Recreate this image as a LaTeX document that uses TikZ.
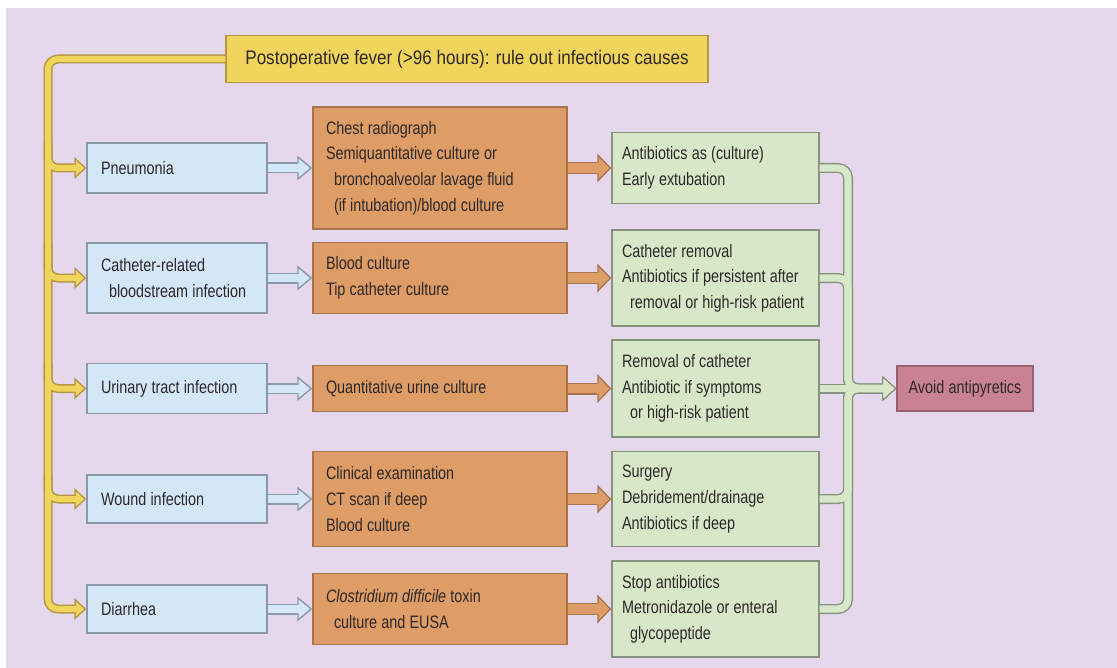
\documentclass[tikz,border=0pt]{standalone}
\usepackage{fontspec}
\setmainfont{Liberation Sans}[FakeStretch=0.80]
\newfontfamily\headfont{Liberation Sans}[FakeStretch=0.87]
\usetikzlibrary{arrows.meta}

\definecolor{panel}{RGB}{229,215,236}
\definecolor{txt}{RGB}{45,40,40}
\definecolor{yfill}{RGB}{240,212,92}
\definecolor{yline}{RGB}{180,150,66}
\definecolor{bfill}{RGB}{212,231,247}
\definecolor{bline}{RGB}{138,152,170}
\definecolor{ofill}{RGB}{222,156,102}
\definecolor{oline}{RGB}{165,115,78}
\definecolor{gfill}{RGB}{215,231,200}
\definecolor{gline}{RGB}{135,146,126}
\definecolor{rfill}{RGB}{200,130,148}
\definecolor{rline}{RGB}{150,98,112}

\newcommand{\ind}{\hspace*{4pt}}
\newcommand{\narrowspace}[1]{\spaceskip=#1 plus 0.5pt minus 0.3pt\relax\hyphenpenalty=10000\relax}

\tikzset{
  box/.style={rectangle, line width=0.7pt, align=flush left, inner ysep=2pt,
    font=\fontsize{9}{12.8}\selectfont\narrowspace{2.1pt}, text=txt},
  dxbox/.style={box, fill=bfill, draw=bline, inner xsep=7pt, text width=76pt, minimum height=#1},
  testbox/.style={box, fill=ofill, draw=oline, inner xsep=6.5pt, text width=114pt, minimum height=#1},
  txbox/.style={box, fill=gfill, draw=gline, inner xsep=5pt, text width=93.5pt, minimum height=#1},
}

\begin{document}
\begin{tikzpicture}[x=0.5pt,y=-0.5pt]
  \useasboundingbox (0,0) rectangle (1117,668);
  \fill[white] (0,0) rectangle (1117,668);
  \fill[panel] (6,8) rectangle (1117,668);

  \node[box, fill=yfill, draw=yline, align=flush center, minimum width=241pt, minimum height=23.5pt,
        font=\headfont\fontsize{9.8}{12}\selectfont\narrowspace{2.4pt}] (fever) at (467,59)
    {Postoperative fever (>96 hours): rule out infectious causes};

  % diagnoses
  \node[dxbox=25pt] (dx1) at (177,168) {Pneumonia};
  \node[dxbox=35pt] (dx2) at (177,278) {Catheter-related\\\ind bloodstream infection};
  \node[dxbox=25pt] (dx3) at (177,388.5) {Urinary tract infection};
  \node[dxbox=24pt] (dx4) at (177,499) {Wound infection};
  \node[dxbox=24pt] (dx5) at (177,609) {Diarrhea};

  % tests
  \node[testbox=61pt] (test1) at (440,168) {Chest radiograph\\Semiquantitative culture or\\\ind bronchoalveolar lavage fluid\\\ind (if intubation)/blood culture};
  \node[testbox=35.5pt] (test2) at (440,278) {Blood culture\\Tip catheter culture};
  \node[testbox=23pt] (test3) at (440,388.5) {Quantitative urine culture};
  \node[testbox=47.5pt] (test4) at (440,499) {Clinical examination\\CT scan if deep\\Blood culture};
  \node[testbox=35.5pt] (test5) at (440,609) {\textit{Clostridium difficile} toxin\\\ind culture and EUSA};

  % treatment
  \node[txbox=35.5pt] (tx1) at (715.5,168) {Antibiotics as (culture)\\Early extubation};
  \node[txbox=48pt] (tx2) at (715.5,278) {Catheter removal\\Antibiotics if persistent after\\\ind removal or high-risk patient};
  \node[txbox=48.5pt] (tx3) at (715.5,388.5) {Removal of catheter\\Antibiotic if symptoms\\\ind or high-risk patient};
  \node[txbox=47.5pt] (tx4) at (715.5,499) {Surgery\\Debridement/drainage\\Antibiotics if deep};
  \node[txbox=48pt] (tx5) at (715.5,609) {Stop antibiotics\\Metronidazole or enteral\\\ind glycopeptide};

  \node[box, fill=rfill, draw=rline, align=flush center, minimum width=68pt, minimum height=22.5pt] (avoid) at (965,388.5) {Avoid antipyretics};

  \coordinate (trunk) at (48,59);
  \coordinate (join) at (848,388.5);

  % band arrows: outline pass, then fill pass
  \foreach \w/\c/\al/\aw/\sh in {4.5pt/yline/6pt/11pt/0pt, 3pt/yfill/4.1pt/7.6pt/1.1pt}{
    \draw[line width=\w, draw=\c, rounded corners=5pt, shorten >=\sh,
          -{Triangle[length=\al,width=\aw,line width=0pt]}]
      (fever.west) -- (trunk) |- (dx5.west);
    \foreach \i in {1,...,4}
      \draw[line width=\w, draw=\c, rounded corners=5pt, shorten >=\sh,
            -{Triangle[length=\al,width=\aw,line width=0pt]}]
        (trunk |- dx\i.north) |- (dx\i.west);
  }
  \foreach \w/\c/\al/\aw/\sh in {5.5pt/bline/7.5pt/12.5pt/0pt, 4pt/bfill/5.6pt/9.3pt/1.2pt}
    \foreach \i in {1,...,5}
      \draw[line width=\w, draw=\c, shorten >=\sh,
            -{Triangle[length=\al,width=\aw,line width=0pt]}] (dx\i.east) -- (test\i.west);
  \foreach \w/\c/\al/\aw/\sh in {6pt/oline/7pt/14.5pt/0pt, 4.6pt/ofill/5.3pt/11pt/1pt}
    \foreach \i in {1,...,5}
      \draw[line width=\w, draw=\c, shorten >=\sh,
            -{Triangle[length=\al,width=\aw,line width=0pt]}] (test\i.east) -- (tx\i.west);
  \foreach \w/\c/\al/\aw/\sh in {5pt/gline/7pt/12.5pt/0pt, 3.6pt/gfill/5.25pt/9.4pt/1.05pt}{
    \foreach \i in {1,2,4,5}
      \draw[line width=\w, draw=\c, rounded corners=5pt, shorten >=\sh,
            -{Triangle[length=\al,width=\aw,line width=0pt]}]
        (tx\i.east) -| (join) -- (avoid.west);
    \draw[line width=\w, draw=\c, shorten >=\sh,
          -{Triangle[length=\al,width=\aw,line width=0pt]}] (tx3.east) -- (avoid.west);
  }
\end{tikzpicture}
\end{document}
